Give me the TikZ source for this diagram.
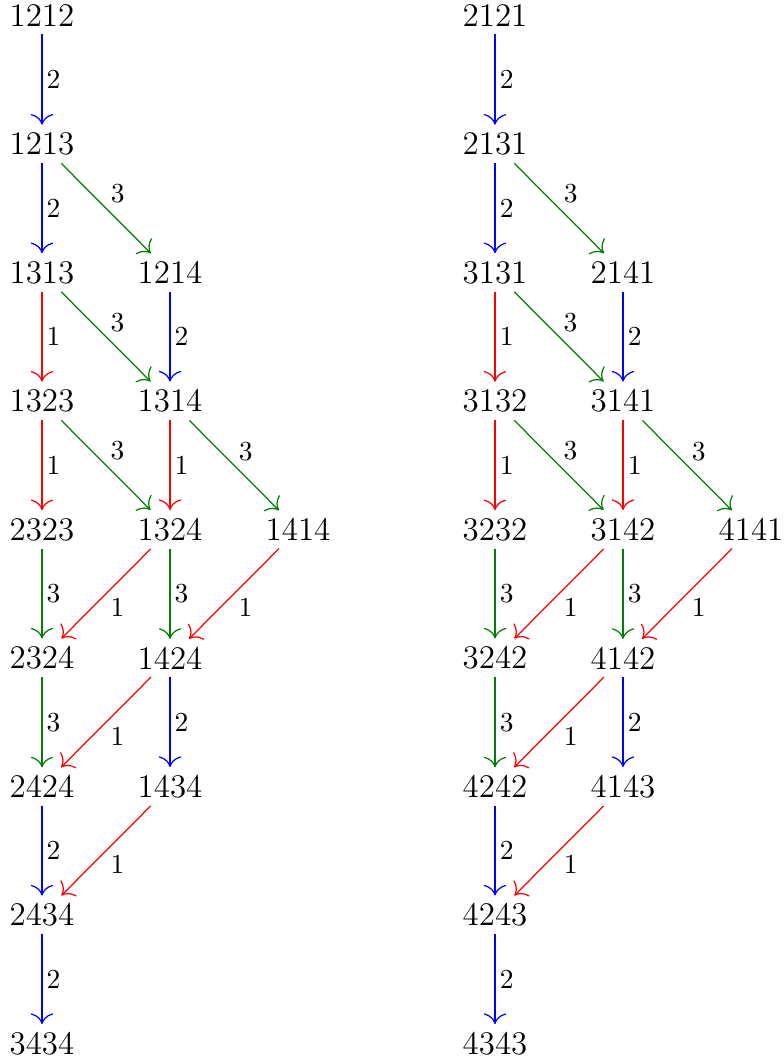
\documentclass[tikz,border=0pt]{standalone}
\usetikzlibrary{arrows.meta}
\begin{document}
\begin{tikzpicture}[x=0.3636pt,y=-0.3636pt,
  vtx/.style={font=\large,inner sep=2.7pt},
  lab/.style={font=\normalsize,inner sep=1.5pt,auto,text=black},
  arr/.style={-{To[scale=1.5]},line width=0.45pt},
  one/.style={arr,red},
  two/.style={arr,blue},
  three/.style={arr,green!50!black}]
\useasboundingbox (0,0) rectangle (783,1062);
% left graph
\node[vtx] (a1212) at (42,15.5) {1212};
\node[vtx] (a1213) at (42,144) {1213};
\node[vtx] (a1313) at (42,272.5) {1313};
\node[vtx] (a1214) at (170,272.5) {1214};
\node[vtx] (a1323) at (42,401) {1323};
\node[vtx] (a1314) at (170,401) {1314};
\node[vtx] (a2323) at (42,529.5) {2323};
\node[vtx] (a1324) at (170,529.5) {1324};
\node[vtx] (a1414) at (298,529.5) {1414};
\node[vtx] (a2324) at (42,658) {2324};
\node[vtx] (a1424) at (170,658) {1424};
\node[vtx] (a2424) at (42,786.5) {2424};
\node[vtx] (a1434) at (170,786.5) {1434};
\node[vtx] (a2434) at (42,915) {2434};
\node[vtx] (a3434) at (42,1043.5) {3434};
\draw[two] (a1212) -- node[lab]{2} (a1213);
\draw[two] (a1213) -- node[lab]{2} (a1313);
\draw[three] (a1213) -- node[lab]{3} (a1214);
\draw[one] (a1313) -- node[lab]{1} (a1323);
\draw[three] (a1313) -- node[lab]{3} (a1314);
\draw[two] (a1214) -- node[lab]{2} (a1314);
\draw[one] (a1323) -- node[lab]{1} (a2323);
\draw[three] (a1323) -- node[lab]{3} (a1324);
\draw[one] (a1314) -- node[lab]{1} (a1324);
\draw[three] (a1314) -- node[lab]{3} (a1414);
\draw[three] (a2323) -- node[lab]{3} (a2324);
\draw[one] (a1324) -- node[lab]{1} (a2324);
\draw[three] (a1324) -- node[lab]{3} (a1424);
\draw[one] (a1414) -- node[lab]{1} (a1424);
\draw[three] (a2324) -- node[lab]{3} (a2424);
\draw[one] (a1424) -- node[lab]{1} (a2424);
\draw[two] (a1424) -- node[lab]{2} (a1434);
\draw[two] (a2424) -- node[lab]{2} (a2434);
\draw[one] (a1434) -- node[lab]{1} (a2434);
\draw[two] (a2434) -- node[lab]{2} (a3434);
% right graph
\node[vtx] (b2121) at (495,15.5) {2121};
\node[vtx] (b2131) at (495,144) {2131};
\node[vtx] (b3131) at (495,272.5) {3131};
\node[vtx] (b2141) at (623,272.5) {2141};
\node[vtx] (b3132) at (495,401) {3132};
\node[vtx] (b3141) at (623,401) {3141};
\node[vtx] (b3232) at (495,529.5) {3232};
\node[vtx] (b3142) at (623,529.5) {3142};
\node[vtx] (b4141) at (751,529.5) {4141};
\node[vtx] (b3242) at (495,658) {3242};
\node[vtx] (b4142) at (623,658) {4142};
\node[vtx] (b4242) at (495,786.5) {4242};
\node[vtx] (b4143) at (623,786.5) {4143};
\node[vtx] (b4243) at (495,915) {4243};
\node[vtx] (b4343) at (495,1043.5) {4343};
\draw[two] (b2121) -- node[lab]{2} (b2131);
\draw[two] (b2131) -- node[lab]{2} (b3131);
\draw[three] (b2131) -- node[lab]{3} (b2141);
\draw[one] (b3131) -- node[lab]{1} (b3132);
\draw[three] (b3131) -- node[lab]{3} (b3141);
\draw[two] (b2141) -- node[lab]{2} (b3141);
\draw[one] (b3132) -- node[lab]{1} (b3232);
\draw[three] (b3132) -- node[lab]{3} (b3142);
\draw[one] (b3141) -- node[lab]{1} (b3142);
\draw[three] (b3141) -- node[lab]{3} (b4141);
\draw[three] (b3232) -- node[lab]{3} (b3242);
\draw[one] (b3142) -- node[lab]{1} (b3242);
\draw[three] (b3142) -- node[lab]{3} (b4142);
\draw[one] (b4141) -- node[lab]{1} (b4142);
\draw[three] (b3242) -- node[lab]{3} (b4242);
\draw[one] (b4142) -- node[lab]{1} (b4242);
\draw[two] (b4142) -- node[lab]{2} (b4143);
\draw[two] (b4242) -- node[lab]{2} (b4243);
\draw[one] (b4143) -- node[lab]{1} (b4243);
\draw[two] (b4243) -- node[lab]{2} (b4343);
\end{tikzpicture}
\end{document}
